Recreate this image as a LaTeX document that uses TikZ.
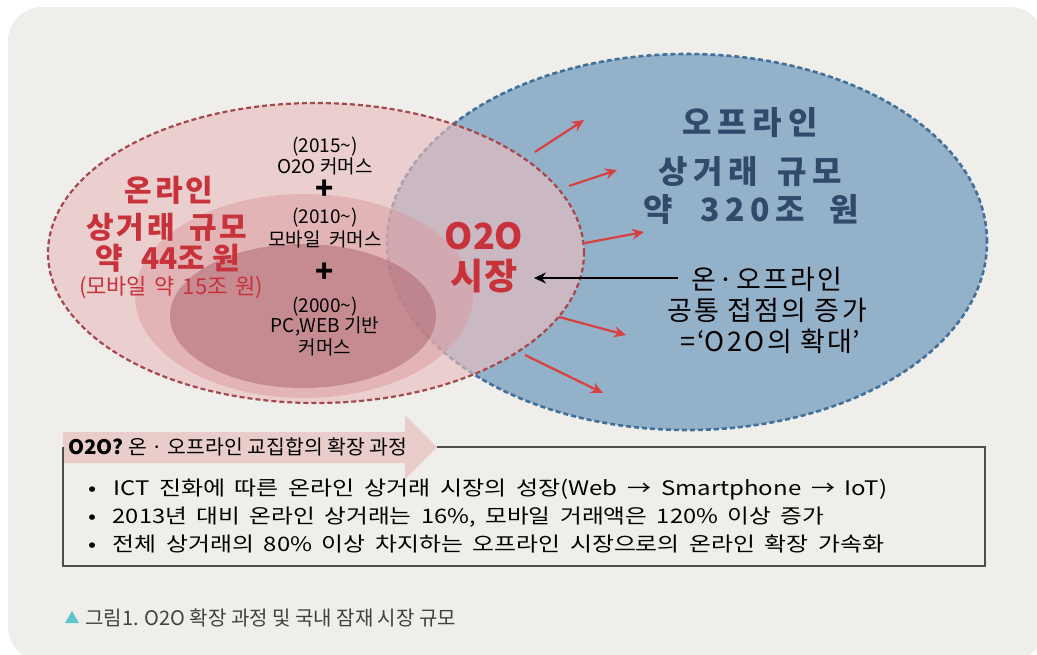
\documentclass[tikz,border=0pt]{standalone}
\usepackage{fontspec}
\usepackage{graphicx}
\setmainfont{Noto Sans CJK KR}
\usetikzlibrary{arrows.meta}
\definecolor{bg}{HTML}{EFEEEA}
\definecolor{redfill}{RGB}{234,191,192}
\definecolor{midfill}{RGB}{218,154,159}
\definecolor{innfill}{RGB}{171,99,109}
\definecolor{bluefill}{HTML}{94B1CA}
\definecolor{blueline}{HTML}{41709B}
\definecolor{redline}{HTML}{A5474C}
\definecolor{redtext}{HTML}{C8323A}
\definecolor{bluetext}{HTML}{2F4A6B}
\definecolor{arrowred}{HTML}{D8403F}
\definecolor{labelpink}{HTML}{E8CDCA}
\definecolor{boxline}{HTML}{4D4D4D}
\definecolor{tri}{HTML}{5CC8CD}
\definecolor{captext}{HTML}{404040}
\newcommand{\tk}{\hspace{0.18em}}
\newcommand{\tks}{\hspace{0.09em}}
\begin{document}
\begin{tikzpicture}[x=1pt,y=-1pt,
  redbig/.style={font=\bfseries\fontsize{30}{30}\selectfont, text=redtext, inner sep=0pt},
  redsmall/.style={font=\fontsize{22}{22}\selectfont, text=redtext, inner sep=0pt},
  smallblk/.style={font=\fontsize{19}{19}\selectfont, inner sep=0pt},
  plusmark/.style={font=\bfseries\fontsize{30}{30}\selectfont, inner sep=0pt},
  o2obig/.style={font=\bfseries\fontsize{36}{36}\selectfont, text=redtext, inner sep=0pt},
  bluebig/.style={font=\bfseries\fontsize{32}{32}\selectfont, text=bluetext, inner sep=0pt},
  midblk/.style={font=\fontsize{27}{27}\selectfont, inner sep=0pt},
  bullet/.style={font=\fontsize{20}{20}\selectfont, inner sep=0pt, anchor=west},
  redarrow/.style={draw=arrowred, line width=2.2pt, -{Stealth[length=12pt,width=11pt,inset=4pt]}},
  blkarrow/.style={draw=black, line width=2pt, -{Stealth[length=12pt,width=11pt,inset=4pt]}},
  boxedge/.style={draw=boxline, line width=1.6pt}
]
\useasboundingbox (0,0) rectangle (1037,654);
\fill[white] (0,0) rectangle (1037,654);
\begin{scope}
  \clip (0,0) rectangle (1037,654);
  \fill[bg, rounded corners=34pt] (8,7) rectangle (1044,661);
\end{scope}

% blue offline ellipse
\fill[bluefill] (687,242) ellipse [x radius=300pt, y radius=188pt];
\draw[blueline, line width=2.6pt, dash pattern=on 5pt off 3pt] (687,242) ellipse [x radius=300pt, y radius=188pt];
% red online ellipses
\fill[redfill, opacity=0.64] (316,253) ellipse [x radius=268pt, y radius=150pt];
\fill[midfill, opacity=0.5] (304,296) ellipse [x radius=169pt, y radius=102pt];
\fill[innfill, opacity=0.5] (303,316) ellipse [x radius=133pt, y radius=72pt];
\draw[redline, line width=2.2pt, dash pattern=on 5pt off 3pt] (316,253) ellipse [x radius=268pt, y radius=150pt];

% left texts
\node[redbig] (on1) at (169,190) {온\tks 라\tks 인};
\node[redbig] (on2) at (167,227) {상\tks 거\tks 래\hspace{0.5em}규\tks 모};
\node[redbig] (on3) at (168,258) {약\hspace{0.6em}44조\hspace{0.25em}원};
\node[redsmall] (on4) at (171,288) {(모바일\hspace{0.35em}약\hspace{0.35em}15조\hspace{0.35em}원)};

\node[smallblk] (y15) at (325,147) {(2015\textasciitilde)};
\node[smallblk] (c15) at (325,166) {O2O 커머스};
\node[plusmark] (p1) at (325,190) {+};
\node[smallblk] (y10) at (325,218) {(2010\textasciitilde)};
\node[smallblk] (c10) at (325,239) {모바일\hspace{0.45em}커머스};
\node[plusmark] (p2) at (325,273) {+};
\node[smallblk] (y00) at (325,307) {(2000\textasciitilde)};
\node[smallblk] (c00) at (325,326) {PC,WEB 기반};
\node[smallblk] (c00b) at (325,347) {커머스};

\node[o2obig] (o2o) at (484,236) {O2O};
\node[o2obig] (sijang) at (484,276) {시장};

% right texts
\node[bluebig] (off1) at (750,123) {오\tk 프\tk 라\tk 인};
\node[bluebig] (off2) at (750,172) {상\tk 거\tk 래\hspace{0.6em}규\tk 모};
\node[bluebig] (off3) at (751,210) {약\hspace{0.85em}3\tk 2\tk 0\tk 조\hspace{0.75em}원};

\node[midblk] (m1) at (767,279) {온\tks·\tks 오\tks 프\tks 라\tks 인};
\node[midblk] (m2) at (767,310) {공\tks 통\hspace{0.3em}접\tks 점\tks 의\hspace{0.3em}증\tks 가};
\node[midblk] (m3) at (770,341) {=\tks‘O\tks 2\tks O\tks 의\hspace{0.3em}확\tks 대’};

% arrows
\coordinate (a1s) at (535,152); \coordinate (a1e) at (584,120);
\coordinate (a2s) at (569,186); \coordinate (a2e) at (617,170);
\coordinate (a3s) at (585,243); \coordinate (a3e) at (644,232);
\coordinate (a4s) at (559,317); \coordinate (a4e) at (626,335);
\coordinate (a5s) at (525,355); \coordinate (a5e) at (603,393);
\draw[redarrow] (a1s) -- (a1e);
\draw[redarrow] (a2s) -- (a2e);
\draw[redarrow] (a3s) -- (a3e);
\draw[redarrow] (a4s) -- (a4e);
\draw[redarrow] (a5s) -- (a5e);
\coordinate (bs) at (678,278); \coordinate (be) at (534,278);
\draw[blkarrow] (bs) -- (be);

% bottom box
\fill[labelpink] (63,432) -- (405,432) -- (405,415) -- (437,447) -- (405,479) -- (405,463) -- (63,463) -- cycle;
\coordinate (bx1) at (437,447);
\coordinate (bx2) at (985,447);
\coordinate (bx3) at (985,566);
\coordinate (bx4) at (63,566);
\coordinate (bx5) at (63,447);
\draw[boxedge] (bx1) -- (bx2) -- (bx3) -- (bx4) -- (bx5);
\node[font=\fontsize{20}{20}\selectfont, inner sep=0pt, anchor=west] (lbl) at (68,447) {\resizebox{339pt}{\height}{\textbf{O2O?} 온 · 오프라인 교집합의 확장 과정}};

\node[bullet] (b1) at (88,490) {\resizebox{799pt}{\height}{•\hspace{0.7em}ICT\hspace{0.4em}진화에\hspace{0.4em}따른\hspace{0.4em}온라인\hspace{0.4em}상거래\hspace{0.4em}시장의\hspace{0.4em}성장(Web\hspace{0.4em}→\hspace{0.4em}Smartphone\hspace{0.4em}→\hspace{0.4em}IoT)}};
\node[bullet] (b2) at (88,517) {\resizebox{736pt}{\height}{•\hspace{0.7em}2013년\hspace{0.4em}대비\hspace{0.4em}온라인\hspace{0.4em}상거래는\hspace{0.4em}16\%,\hspace{0.4em}모바일\hspace{0.4em}거래액은\hspace{0.4em}120\%\hspace{0.4em}이상\hspace{0.4em}증가}};
\node[bullet] (b3) at (88,544) {\resizebox{796pt}{\height}{•\hspace{0.7em}전체\hspace{0.4em}상거래의\hspace{0.4em}80\%\hspace{0.4em}이상\hspace{0.4em}차지하는\hspace{0.4em}오프라인\hspace{0.4em}시장으로의\hspace{0.4em}온라인\hspace{0.4em}확장\hspace{0.4em}가속화}};

% caption
\fill[tri] (65,623) -- (79,623) -- (72,611) -- cycle;
\node[font=\fontsize{20}{20}\selectfont, text=captext, inner sep=0pt, anchor=west] (cap) at (85,618) {그림1. O2O 확장 과정 및 국내 잠재 시장 규모};
\end{tikzpicture}
\end{document}
